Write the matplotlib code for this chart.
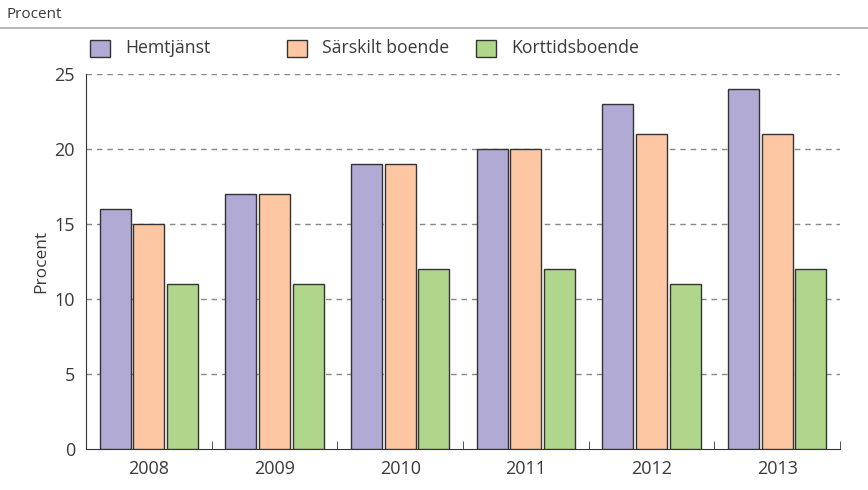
import numpy as np
import matplotlib.pyplot as plt
from matplotlib.patches import Rectangle
from matplotlib.lines import Line2D

plt.rcParams['font.family'] = ['Open Sans', 'DejaVu Sans']

years = ['2008', '2009', '2010', '2011', '2012', '2013']
hemtjanst = [16, 17, 19, 20, 23, 24]
sarskilt = [15, 17, 19, 20, 21, 21]
korttid = [11, 11, 12, 12, 11, 12]
series = ['Hemtjänst', 'Särskilt boende', 'Korttidsboende']
colors = ['#b0aad4', '#fdc7a3', '#b0d68b']
txt = '#3a3a3a'

fig = plt.figure(figsize=(8.68, 4.9), dpi=100)
ax = fig.add_axes([86/868, 1-449/490, (840-86)/868, (449-74)/490])

x = np.arange(len(years))
w = 0.247
step = 0.267
for i, (vals, c) in enumerate(zip([hemtjanst, sarskilt, korttid], colors)):
    ax.bar(x + (i-1)*step, vals, width=w, color=c, edgecolor='#333333', linewidth=1.0, zorder=3)

ax.set_xlim(-0.5, len(years)-0.5)
ax.set_ylim(0, 25)
ax.set_yticks([0, 5, 10, 15, 20, 25])
for yv in [5, 10, 15, 20, 25]:
    ax.axhline(yv, color='#888888', linestyle=(0, (4, 3.5)), linewidth=1.0, zorder=1)

ax.set_xticks(x)
ax.set_xticklabels(years)
ax.set_xticks(np.arange(-0.5, len(years)), minor=True)
ax.tick_params(axis='x', which='major', length=0, labelsize=13, colors=txt, pad=8)
ax.tick_params(axis='x', which='minor', length=6, direction='in', color='#333333')
ax.tick_params(axis='y', length=0, labelsize=13, colors=txt, pad=8)
for s in ['top', 'right']:
    ax.spines[s].set_visible(False)
ax.spines['left'].set_color('#333333')
ax.spines['bottom'].set_color('#333333')
ax.set_ylabel('Procent', fontsize=12.5, color=txt, labelpad=4)

# header
fig.text(7/868, 1-14/490, 'Procent', fontsize=11, color=txt, va='center', ha='left')
fig.add_artist(Line2D([0, 1], [1-28/490, 1-28/490], color='#b0aaa6', linewidth=1.2))

# legend
lx = [90, 287, 476]
for xx, name, c in zip(lx, series, colors):
    fig.add_artist(Rectangle((xx/868, 1-57/490), 20/868, 17/490, facecolor=c,
                             edgecolor='#333333', linewidth=1.0))
    fig.text((xx+35)/868, 1-48/490, name, fontsize=12.7, color=txt, va='center', ha='left')

fig.savefig('out.png')
